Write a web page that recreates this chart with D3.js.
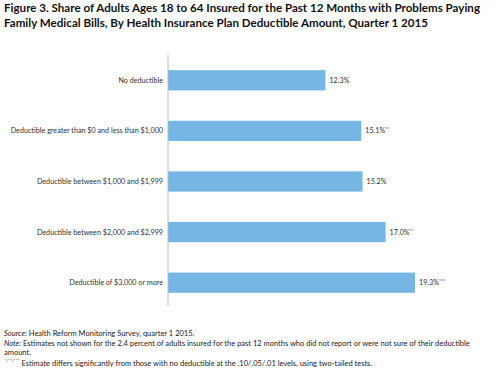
<!DOCTYPE html>
<html>
<head>
<meta charset="utf-8">
<script src="https://cdn.jsdelivr.net/npm/d3@7"></script>
<style>
  html, body { margin: 0; padding: 0; background: #fff; }
  svg { display: block; font-family: Lato, "Open Sans", sans-serif; }
</style>
</head>
<body>
<svg id="chart" width="500" height="371"></svg>
<script>
// Share with problems paying medical bills, by deductible amount (Q1 2015).
const categories = [
  "No deductible",
  "Deductible greater than $0 and less than $1,000",
  "Deductible between $1,000 and $1,999",
  "Deductible between $2,000 and $2,999",
  "Deductible of $3,000 or more",
];
const values = [12.3, 15.1, 15.2, 17.0, 19.3];
const stars = ["", "**", "", "**", "***"];

const titleLines = [
  "Figure 3. Share of Adults Ages 18 to 64 Insured for the Past 12 Months with Problems Paying",
  "Family Medical Bills, By Health Insurance Plan Deductible Amount, Quarter 1 2015",
];
// approximate rendered widths of the title lines in the original
const titleWidths = [476, 424];

const svg = d3.select("#chart");

// Title
svg.selectAll("text.title")
  .data(titleLines)
  .join("text")
  .attr("class", "title")
  .attr("x", 4)
  .attr("y", (d, i) => 12 + i * 15)
  .attr("font-size", 11)
  .attr("font-weight", "bold")
  .attr("fill", "#111")
  .attr("textLength", (d, i) => titleWidths[i])
  .attr("lengthAdjust", "spacingAndGlyphs")
  .text(d => d);

// Scales: axis at x=168, ~12.8px per percentage point
const x = d3.scaleLinear().domain([0, 20]).range([168, 424]);
const y = d3.scaleBand().domain(categories).range([55, 308]).paddingInner(0.6).paddingOuter(0.3);

svg.selectAll("rect.bar")
  .data(values)
  .join("rect")
  .attr("class", "bar")
  .attr("x", x(0))
  .attr("y", (d, i) => y(categories[i]))
  .attr("width", d => x(d) - x(0))
  .attr("height", y.bandwidth())
  .attr("fill", "#76b6e4");

// Vertical axis line, no ticks
svg.append("line")
  .attr("x1", x(0)).attr("x2", x(0))
  .attr("y1", 55).attr("y2", 306)
  .attr("stroke", "#bbb")
  .attr("stroke-width", 1);

// Category labels
svg.selectAll("text.cat")
  .data(categories)
  .join("text")
  .attr("class", "cat")
  .attr("x", x(0) - 5)
  .attr("y", d => y(d) + y.bandwidth() / 2)
  .attr("dy", "0.35em")
  .attr("text-anchor", "end")
  .attr("font-size", 7.2)
  .attr("fill", "#333")
  .text(d => d);

// Value labels with significance stars
const vl = svg.selectAll("text.val")
  .data(values)
  .join("text")
  .attr("class", "val")
  .attr("x", d => x(d) + 4)
  .attr("y", (d, i) => y(categories[i]) + y.bandwidth() / 2)
  .attr("dy", "0.35em")
  .attr("font-size", 7.2)
  .attr("fill", "#333");
vl.append("tspan").text(d => d.toFixed(1) + "%");
vl.append("tspan")
  .attr("font-size", 5)
  .attr("dy", "-0.4em")
  .text((d, i) => stars[i]);

// Footnotes
const notes = [
  { lead: "Source:", text: " Health Reform Monitoring Survey, quarter 1 2015.", y: 336 },
  { lead: "Note:", text: " Estimates not shown for the 2.4 percent of adults insured for the past 12 months who did not report or were not sure of their deductible", y: 346 },
  { lead: "", text: "amount.", y: 355 },
];
notes.forEach(n => {
  const t = svg.append("text")
    .attr("x", 4).attr("y", n.y)
    .attr("font-size", 7.5)
    .attr("fill", "#222");
  if (n.lead) t.append("tspan").attr("font-style", "italic").text(n.lead);
  t.append("tspan").text(n.text);
});
const last = svg.append("text")
  .attr("x", 4).attr("y", 364)
  .attr("font-size", 7.5)
  .attr("fill", "#222");
last.append("tspan").attr("font-size", 4.5).attr("dy", "-0.5em").text("*/**/***");
last.append("tspan").attr("dy", "0.5em").text("  Estimate differs significantly from those with no deductible at the .10/.05/.01 levels, using two-tailed tests.");
</script>
</body>
</html>
